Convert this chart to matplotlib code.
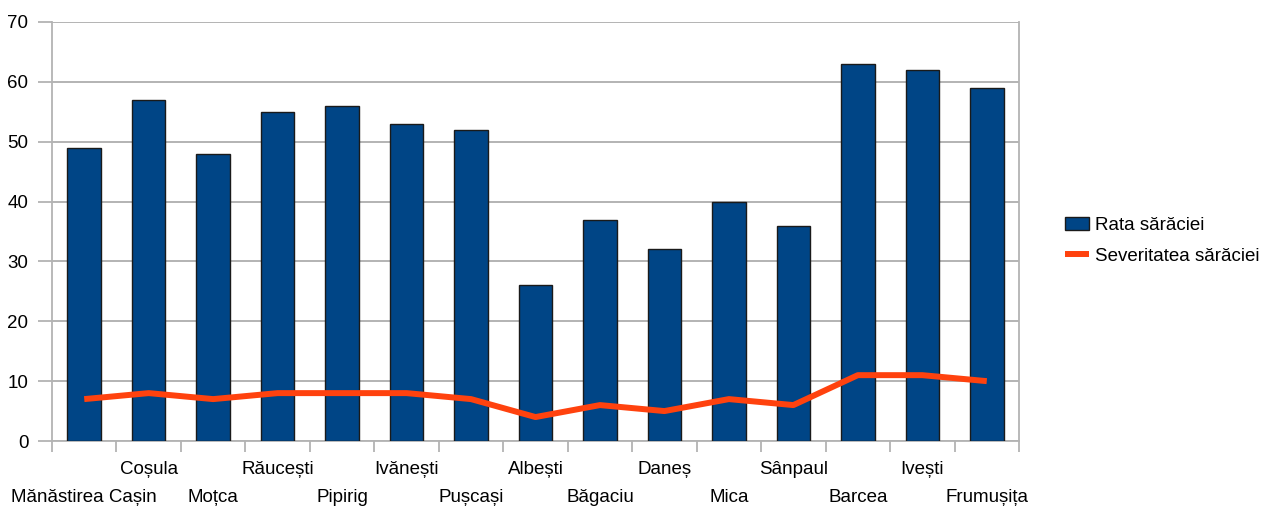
import matplotlib.pyplot as plt
import matplotlib.transforms as mtransforms
import numpy as np

# comune si indicatori de saracie
comune = ["Mănăstirea Cașin", "Coșula", "Moțca", "Răucești", "Pipirig",
          "Ivănești", "Pușcași", "Albești", "Băgaciu", "Daneș", "Mica",
          "Sânpaul", "Barcea", "Ivești", "Frumușița"]
rata = [49, 57, 48, 55, 56, 53, 52, 26, 37, 32, 40, 36, 63, 62, 59]
severitate = [7, 8, 7, 8, 8, 8, 7, 4, 6, 5, 7, 6, 11, 11, 10]

plt.rcParams['font.family'] = ['Liberation Sans', 'DejaVu Sans']

fig = plt.figure(figsize=(12.69, 5.09), dpi=100)
ax = fig.add_axes([52/1269, 68/509, 967/1269, 419/509])

x = np.arange(len(comune))
bare = ax.bar(x, rata, width=0.52, color="#004586", edgecolor="#1a1a1a",
              linewidth=1.0, zorder=3, label="Rata sărăciei")
linie, = ax.plot(x, severitate, color="#ff420e", linewidth=4.3,
                 solid_joinstyle="round", solid_capstyle="butt", zorder=4,
                 label="Severitatea sărăciei")

ax.set_xlim(-0.5, len(comune) - 0.5)
ax.set_ylim(0, 70)
ax.set_yticks(range(0, 71, 10))
ax.yaxis.grid(True, color="#b3b3b3", linewidth=1.4, zorder=0)
ax.set_axisbelow(True)

# liniute intre categorii
ax.set_xticks(np.arange(-0.5, len(comune), 1.0))
ax.set_xticklabels([])
ax.tick_params(axis="x", direction="out", length=8, width=1.3, color="#b3b3b3")
ax.tick_params(axis="y", direction="out", length=10, width=1.3, color="#b3b3b3",
               labelsize=13.5, pad=7)

for s in ["left", "right", "bottom", "top"]:
    ax.spines[s].set_color("#b3b3b3")
    ax.spines[s].set_linewidth(1.3)
ax.spines["top"].set_visible(False)

# etichete pe doua randuri
trans = mtransforms.blended_transform_factory(ax.transData, fig.transFigure)
for i, nume in enumerate(comune):
    yy = 1 - 497/509 if i % 2 == 0 else 1 - 470/509
    ax.text(i, yy, nume, transform=trans, ha="center", va="center", fontsize=13.5)

leg = ax.legend([bare, linie], ["Rata sărăciei", "Severitatea sărăciei"],
                loc="center left", bbox_to_anchor=(1048/1269, 268/509),
                bbox_transform=fig.transFigure, frameon=False, fontsize=13.5,
                handlelength=1.3, handletextpad=0.3, labelspacing=0.7)

fig.savefig("out.png", dpi=100)
